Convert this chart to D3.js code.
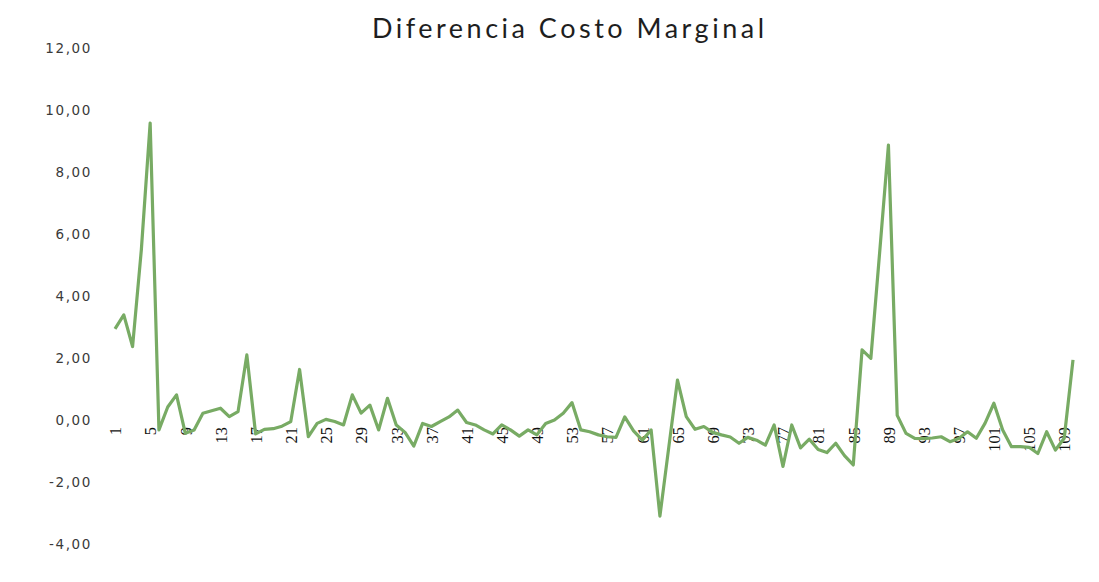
<!DOCTYPE html>
<html>
<head>
<meta charset="utf-8">
<script src="https://cdn.jsdelivr.net/npm/d3@7/dist/d3.min.js"></script>
<style>
  html, body { margin: 0; padding: 0; background: #fff; }
  svg { display: block; }
</style>
</head>
<body>
<svg id="chart" width="1099" height="582"></svg>
<script>
// Chart title
const title = "Diferencia Costo Marginal";

// Categories 1..110
const categories = [
  "1","2","3","4","5","6","7","8","9","10",
  "11","12","13","14","15","16","17","18","19","20",
  "21","22","23","24","25","26","27","28","29","30",
  "31","32","33","34","35","36","37","38","39","40",
  "41","42","43","44","45","46","47","48","49","50",
  "51","52","53","54","55","56","57","58","59","60",
  "61","62","63","64","65","66","67","68","69","70",
  "71","72","73","74","75","76","77","78","79","80",
  "81","82","83","84","85","86","87","88","89","90",
  "91","92","93","94","95","96","97","98","99","100",
  "101","102","103","104","105","106","107","108","109","110"
];

// Marginal cost difference per category
const values = [
  2.94, 3.39, 2.37, 5.50, 9.58, -0.32, 0.42, 0.81, -0.43, -0.32,
  0.22, 0.30, 0.38, 0.11, 0.27, 2.10, -0.45, -0.30, -0.28, -0.20,
  -0.05, 1.63, -0.54, -0.11, 0.02, -0.05, -0.16, 0.81, 0.22, 0.48,
  -0.32, 0.70, -0.16, -0.40, -0.84, -0.11, -0.21, -0.05, 0.10, 0.32,
  -0.08, -0.16, -0.32, -0.45, -0.16, -0.32, -0.52, -0.32, -0.48, -0.11,
  0.00, 0.22, 0.56, -0.32, -0.38, -0.48, -0.54, -0.56, 0.10, -0.35,
  -0.65, -0.32, -3.10, -0.90, 1.29, 0.11, -0.30, -0.21, -0.40, -0.48,
  -0.55, -0.75, -0.56, -0.65, -0.81, -0.16, -1.50, -0.16, -0.90, -0.62,
  -0.95, -1.05, -0.75, -1.15, -1.45, 2.26, 1.99, 5.40, 8.87, 0.15,
  -0.43, -0.59, -0.60, -0.58, -0.54, -0.70, -0.60, -0.38, -0.59, -0.10,
  0.54, -0.32, -0.86, -0.86, -0.88, -1.08, -0.38, -0.97, -0.59, 1.94
];

// Category labels shown on the axis (every fourth)
const xTickLabels = [
  "1","5","9","13","17","21","25","29","33","37","41","45","49","53",
  "57","61","65","69","73","77","81","85","89","93","97","101","105","109"
];

// Value axis ticks
const yTicks = [-4, -2, 0, 2, 4, 6, 8, 10, 12];

const svg = d3.select("#chart");

const x = d3.scalePoint()
  .domain(categories)
  .range([115, 1073]);

const y = d3.scaleLinear()
  .domain([-4, 12])
  .range([544, 48]);

const locale = d3.formatLocale({
  decimal: ",",
  thousands: ".",
  grouping: [3],
  currency: ["", ""],
  minus: "-"
});
const fmt = locale.format(".2f");

// Title
svg.append("text")
  .attr("x", 568)
  .attr("y", 38)
  .attr("text-anchor", "middle")
  .attr("font-family", "Lato, 'Open Sans', sans-serif")
  .attr("font-size", 27)
  .attr("fill", "#1e1e1e")
  .attr("textLength", 392)
  .attr("lengthAdjust", "spacing")
  .text(title);

// Value axis (labels only)
const yAxis = svg.append("g")
  .attr("transform", "translate(92,0)")
  .call(d3.axisLeft(y).tickValues(yTicks).tickFormat(fmt).tickSize(0).tickPadding(0));
yAxis.select(".domain").remove();
yAxis.selectAll("text")
  .attr("font-family", "'DejaVu Sans', sans-serif")
  .attr("font-size", 13.5)
  .attr("letter-spacing", "1.6px")
  .attr("fill", "#3a3a3a");

// Category axis at zero, rotated labels
const xAxis = svg.append("g")
  .attr("transform", `translate(0,${y(0)})`)
  .call(d3.axisBottom(x).tickValues(xTickLabels).tickSize(0));
xAxis.select(".domain").remove();
xAxis.selectAll("text")
  .attr("transform", "rotate(-90)")
  .attr("text-anchor", "end")
  .attr("x", -7)
  .attr("y", 0)
  .attr("dy", "0.35em")
  .attr("font-family", "'Liberation Serif', 'Times New Roman', serif")
  .attr("font-size", 16.5)
  .attr("fill", "#111");

// Series line
const line = d3.line()
  .x((d, i) => x(categories[i]))
  .y(d => y(d));

svg.append("path")
  .datum(values)
  .attr("fill", "none")
  .attr("stroke", "#78ab64")
  .attr("stroke-width", 3.2)
  .attr("stroke-linejoin", "round")
  .attr("d", line);
</script>
</body>
</html>
